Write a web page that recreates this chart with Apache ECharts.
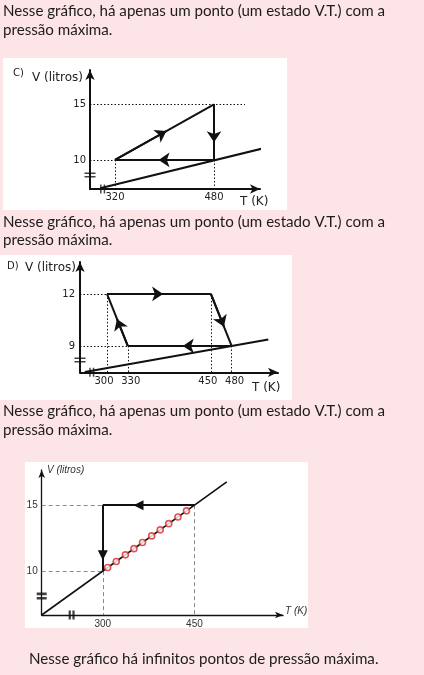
<!DOCTYPE html>
<html><head><meta charset="utf-8">
<script src="https://cdn.jsdelivr.net/npm/echarts@6/dist/echarts.min.js"></script>
<style>html,body{margin:0;padding:0;background:#fde4e6;}#c{width:424px;height:675px;}</style>
</head><body><div id="c"></div>
<script>
// ---------------- DATA ----------------
const captionLine1 = 'Nesse gráfico, há apenas um ponto (um estado V.T.) com a';
const captionLine2 = 'pressão máxima.';
const captionFinal = 'Nesse gráfico há infinitos pontos de pressão máxima.';

// Chart C
const cLetter = 'C)';
const cTempTicks = [320, 480];
const cVolTicks = [10, 15];
const cCycle = [[320, 10], [480, 15], [480, 10], [320, 10]];
const cArrowAt = [0.52, 0.68, 0.56];
const cIsobar = [[296, 7.45], [560, 11.05]];
const cGuide15End = 530;
const cBreakT = 300;
const cBreakV = 8.65;

// Chart D
const dLetter = 'D)';
const dTempTicks = [300, 330, 450, 480];
const dVolTicks = [9, 12];
const dCycle = [[300, 12], [450, 12], [480, 9], [330, 9], [300, 12]];
const dArrowAt = [0.54, 0.63, 0.47, 0.52];
const dIsobar = [[268, 7.5], [533, 9.37]];
const dBreakT = 278;
const dBreakV = 8.19;

// Chart E (third)
const eTempTicks = [300, 450];
const eVolTicks = [10, 15];
const ePath = [[450, 15], [300, 15], [300, 10]];
const eArrowAt = [0.61, 0.76];
const eIsobar = [[200, 6.667], [503, 16.77]];
const eMarksT = [308, 322, 337, 351, 365, 380, 394, 408, 423, 437];
const eMarksV = [10.27, 10.73, 11.23, 11.7, 12.17, 12.67, 13.13, 13.6, 14.1, 14.57];
const eBreakT = 249;
const eBreakV = 8.1;

// ---------------- LAYOUT / STYLE ----------------
const axesCfg = [
  {grid:{left:90, top:70, width:170, height:119}, x:[279.6, 554.3], y:[7.39, 18.08]},
  {grid:{left:80, top:262, width:198, height:110.3}, x:[261, 547], y:[7.48, 13.84]},
  {grid:{left:41.7, top:470, width:241.3, height:145}, x:[200, 595], y:[6.667, 17.67]}
];
const ink = '#111';
const capFamily = 'Lato';
function fitSize(text, family, target) {
  const c = document.createElement('canvas').getContext('2d');
  c.font = '20px ' + family;
  return 20 * target / c.measureText(text).width;
}
const capSize = fitSize(captionLine1, capFamily, 382);

const H_BARS_THIN = 'path://M0,0H10V1.6H0Z M0,4H10V5.6H0Z';
const V_BARS_THIN = 'path://M0,0H1.6V10H0Z M4,0H5.6V10H4Z';
const H_BARS_THICK = 'path://M0,0H10V3H0Z M0,5H10V8H0Z';
const V_BARS_THICK = 'path://M0,0H3V10H0Z M5,0H8V10H5Z';

function xAxis(i, ticks, font, size, color, arrow, lw, margin, fmt, rich) {
  return {type:'value', gridIndex:i, min:axesCfg[i].x[0], max:axesCfg[i].x[1],
    splitLine:{show:false}, axisTick:{show:false},
    axisLine:{onZero:false, symbol:['none','arrow'], symbolSize:arrow, lineStyle:{color:ink, width:lw}},
    axisLabel:{customValues:ticks, margin:margin, fontFamily:font, fontSize:size, color:color,
      formatter:fmt, rich:rich}};
}
function yAxis(i, ticks, font, size, color, arrow, lw, margin) {
  return {type:'value', gridIndex:i, min:axesCfg[i].y[0], max:axesCfg[i].y[1],
    splitLine:{show:false}, axisTick:{show:false},
    axisLine:{onZero:false, symbol:['none','arrow'], symbolSize:arrow, lineStyle:{color:ink, width:lw}},
    axisLabel:{customValues:ticks, margin:margin, fontFamily:font, fontSize:size, color:color}};
}

function cycleSeries(i, path, arrowAt, arrowSym, arrowSize, lw) {
  const edges = path.slice(0, -1).map((p, k) => [p, path[k + 1]]);
  const base = {type:'lines', coordinateSystem:'cartesian2d', xAxisIndex:i, yAxisIndex:i, silent:true, clip:false};
  return [
    Object.assign({}, base, {z:4, lineStyle:{color:ink, width:lw, opacity:1}, data:edges.map(e => ({coords:e}))}),
    Object.assign({}, base, {z:5, symbol:['none', arrowSym], symbolSize:arrowSize,
      lineStyle:{color:ink, width:lw, opacity:1},
      data:edges.map((e, k) => {
        const f = arrowAt[k];
        const p = [e[0][0] + f * (e[1][0] - e[0][0]), e[0][1] + f * (e[1][1] - e[0][1])];
        return {coords:[e[0], p]};
      })})
  ];
}
function guideSeries(i, guides, color, type) {
  return {type:'lines', coordinateSystem:'cartesian2d', xAxisIndex:i, yAxisIndex:i, silent:true, z:2,
    lineStyle:{color:color, width:1, type:type, opacity:1}, data:guides.map(g => ({coords:g}))};
}
function isobarSeries(i, data, lw) {
  return {type:'line', xAxisIndex:i, yAxisIndex:i, data:data, symbol:'none', clip:false, silent:true,
    lineStyle:{color:ink, width:lw}, z:3};
}
function breakSeries(i, bt, bv, hPath, vPath, hSize, vSize) {
  const xmin = axesCfg[i].x[0], ymin = axesCfg[i].y[0];
  return [
    {type:'scatter', xAxisIndex:i, yAxisIndex:i, silent:true, z:6, symbol:hPath, symbolSize:hSize,
      itemStyle:{color:ink}, data:[[xmin, bv]]},
    {type:'scatter', xAxisIndex:i, yAxisIndex:i, silent:true, z:6, symbol:vPath, symbolSize:vSize,
      itemStyle:{color:ink}, data:[[bt, ymin]]}
  ];
}

const cx0 = axesCfg[0].x[0], cy0 = axesCfg[0].y[0];
const dx0 = axesCfg[1].x[0], dy0 = axesCfg[1].y[0];
const ex0 = axesCfg[2].x[0], ey0 = axesCfg[2].y[0];

const cGuides = [
  [[cx0, cVolTicks[1]], [cGuide15End, cVolTicks[1]]],
  [[cx0, cVolTicks[0]], [cTempTicks[0], cVolTicks[0]]],
  [[cTempTicks[0], cVolTicks[0]], [cTempTicks[0], cy0]],
  [[cTempTicks[1], cVolTicks[0]], [cTempTicks[1], cy0]]
];
const dGuides = [
  [[dx0, 12], [300, 12]],
  [[dx0, 9], [330, 9]],
  [[300, 12], [300, dy0]],
  [[330, 9], [330, dy0]],
  [[450, 12], [450, dy0]],
  [[480, 9], [480, dy0]]
];
const eGuides = [
  [[ex0, 15], [450, 15]],
  [[ex0, 10], [300, 10]],
  [[300, 10], [300, ey0]],
  [[450, 15], [450, ey0]]
];

// nudge crowded D labels apart (left/right padding on a centred label box)
const dLabelFmt = v => (v === 300 || v === 450) ? '{l|' + v + '}' : '{r|' + v + '}';
const dLabelRich = {l:{padding:[0, 6, 0, 0], fontFamily:'DejaVu Sans', fontSize:10, color:'#222'},
                    r:{padding:[0, 0, 0, 6], fontFamily:'DejaVu Sans', fontSize:10, color:'#222'}};

const vf = 'DejaVu Sans';
const series = [].concat(
  guideSeries(0, cGuides, ink, [1.5, 2]),
  isobarSeries(0, cIsobar, 2),
  cycleSeries(0, cCycle, cArrowAt, 'arrow', [7, 11], 2),
  breakSeries(0, cBreakT, cBreakV, H_BARS_THIN, V_BARS_THIN, [11, 5], [5, 9]),

  guideSeries(1, dGuides, ink, [1.5, 2]),
  isobarSeries(1, dIsobar, 2),
  cycleSeries(1, dCycle, dArrowAt, 'arrow', [7, 11], 2),
  breakSeries(1, dBreakT, dBreakV, H_BARS_THIN, V_BARS_THIN, [11, 5], [5, 9]),

  guideSeries(2, eGuides, '#8a8a8a', [4, 3]),
  isobarSeries(2, eIsobar, 1.6),
  cycleSeries(2, ePath, eArrowAt, 'triangle', [9, 10], 2),
  breakSeries(2, eBreakT, eBreakV, H_BARS_THICK, V_BARS_THICK, [10, 7], [6, 9]),
  [{type:'scatter', xAxisIndex:2, yAxisIndex:2, silent:true, z:7, symbol:'circle', symbolSize:6,
    itemStyle:{color:'#ffffff', borderColor:'#d42a2a', borderWidth:1.6}, data:eMarksT.map((t, k) => [t, eMarksV[k]])}]
);

function txt(x, y, text, font, fill, extra) {
  return Object.assign({type:'text', x:x, y:y, silent:true, z:100,
    style:{text:text, font:font, fill:fill, textVerticalAlign:'middle'}}, extra || {});
}
const capFont = capSize.toFixed(2) + 'px ' + capFamily;
const capColor = '#1c1c1c';
const graphic = [
  {type:'rect', shape:{x:3, y:58, width:284, height:152}, style:{fill:'#fff'}, z:-10, silent:true},
  {type:'rect', shape:{x:0, y:255, width:292, height:145}, style:{fill:'#fff'}, z:-10, silent:true},
  {type:'rect', shape:{x:25, y:462, width:283, height:166}, style:{fill:'#fff'}, z:-10, silent:true},
  txt(3, 11, captionLine1, capFont, capColor),
  txt(3, 30, captionLine2, capFont, capColor),
  txt(3, 222, captionLine1, capFont, capColor),
  txt(3, 240, captionLine2, capFont, capColor),
  txt(3, 411, captionLine1, capFont, capColor),
  txt(3, 430, captionLine2, capFont, capColor),
  txt(29, 659, captionFinal, capFont, capColor),
  txt(13, 73, cLetter, '10px ' + vf, '#222'),
  txt(32, 78, 'V (litros)', '12px ' + vf, '#222'),
  txt(240, 202, 'T (K)', '12px ' + vf, '#222'),
  txt(7, 266, dLetter, '10px ' + vf, '#222'),
  txt(25, 268, 'V (litros)', '12px ' + vf, '#222'),
  txt(252, 388, 'T (K)', '12px ' + vf, '#222'),
  txt(47, 470, 'V (litros)', 'italic 10px Liberation Sans', '#333'),
  txt(285, 611, 'T (K)', 'italic 10px Liberation Sans', '#333')
];

const option = {
  animation:false,
  backgroundColor:'#fde4e6',
  grid:axesCfg.map(a => Object.assign({containLabel:false}, a.grid)),
  xAxis:[
    xAxis(0, cTempTicks, vf, 10, '#222', [7, 10], 2, 3),
    xAxis(1, dTempTicks, vf, 10, '#222', [7, 10], 2, 4, dLabelFmt, dLabelRich),
    xAxis(2, eTempTicks, 'Liberation Sans', 10, '#333', [5, 8], 1.3, 4)
  ],
  yAxis:[
    yAxis(0, cVolTicks, vf, 10, '#222', [7, 10], 2, 4),
    yAxis(1, dVolTicks, vf, 10, '#222', [7, 10], 2, 5),
    yAxis(2, eVolTicks, 'Liberation Sans', 10, '#333', [5, 8], 1.3, 4)
  ],
  graphic:graphic,
  series:series
};
const chart = echarts.init(document.getElementById('c'), null, {renderer:'canvas'});
chart.setOption(option);
</script>
</body></html>
